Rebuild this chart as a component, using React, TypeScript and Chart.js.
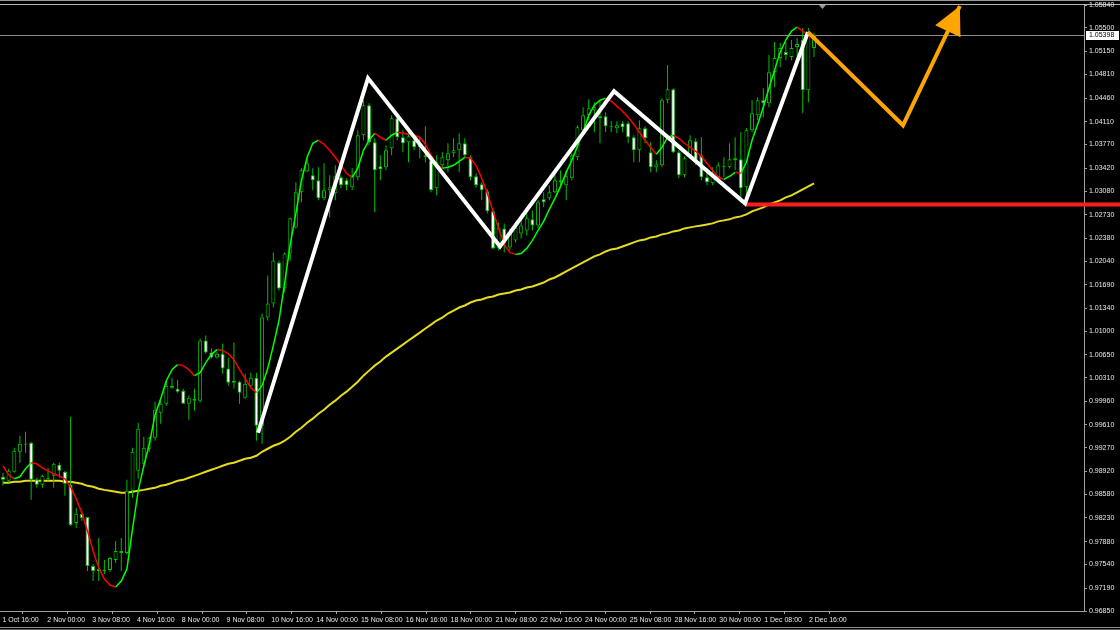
import React, { useEffect, useRef } from 'react';
import { Chart, registerables } from 'chart.js';

Chart.register(...registerables);

// ---------- DATA (H4 candles, price values) ----------
const candleOpen = [
  0.98841, 0.98781, 0.98915, 0.99212, 0.99331, 0.99346, 0.98796, 0.98722, 0.98811, 0.98855,
  0.99019, 0.98915, 0.98722, 0.98157, 0.98291, 0.98246, 0.97518, 0.97444, 0.97444, 0.97459,
  0.97607, 0.97711, 0.97711, 0.98633, 0.98930, 0.99034, 0.99257, 0.99420, 0.99792, 0.99925,
  1.00193, 1.00148, 1.00119, 0.99925, 1.00000, 0.99970, 1.00862, 1.00683, 1.00609, 1.00668,
  1.00446, 1.00237, 1.00252, 1.00015, 1.00193, 1.00312, 0.99598, 1.01203, 1.01411, 1.02021,
  1.01634, 1.02154, 1.02541, 1.03061, 1.03373, 1.03313, 1.03239, 1.02972, 1.03091, 1.03046,
  1.03284, 1.03239, 1.03135, 1.03284, 1.03908, 1.04354, 1.03804, 1.03447, 1.03432, 1.03715,
  1.04161, 1.03878, 1.03804, 1.03834, 1.03730, 1.03581, 1.03536, 1.03120, 1.03462, 1.03536,
  1.03640, 1.03685, 1.03789, 1.03581, 1.03299, 1.03180, 1.03076, 1.02779, 1.02229, 1.02526,
  1.02244, 1.02348, 1.02452, 1.02496, 1.02660, 1.02570, 1.02957, 1.02972, 1.03061, 1.03209,
  1.03165, 1.03269, 1.03581, 1.03982, 1.04205, 1.04279, 1.04190, 1.04190, 1.04042, 1.04012,
  1.04086, 1.04086, 1.03878, 1.03685, 1.04012, 1.03655, 1.03432, 1.03462, 1.04428, 1.04591,
  1.03655, 1.03313, 1.03581, 1.03819, 1.03611, 1.03284, 1.03195, 1.03284, 1.03432, 1.03432,
  1.03536, 1.03551, 1.03135, 1.03982, 1.04205, 1.04428, 1.04383, 1.04844, 1.05052, 1.05141,
  1.05067, 1.05216, 1.05320, 1.04577, 1.05201,
];
const candleHigh = [
  0.98900, 0.98960, 0.99272, 0.99450, 0.99509, 0.99361, 0.98826, 0.98870, 0.98974, 0.99049,
  0.99049, 0.98930, 0.99732, 0.98380, 0.98335, 0.98246, 0.97548, 0.97934, 0.97607, 0.97652,
  0.97890, 0.97934, 0.98796, 0.99272, 0.99643, 0.99435, 0.99435, 0.99955, 0.99970, 1.00267,
  1.00312, 1.00282, 1.00148, 1.00044, 1.00148, 1.00891, 1.00936, 1.00743, 1.00698, 1.00817,
  1.00609, 1.00832, 1.00267, 1.00371, 1.00386, 1.00386, 1.01263, 1.01827, 1.02169, 1.02050,
  1.02169, 1.02689, 1.03209, 1.03418, 1.03566, 1.03418, 1.03432, 1.03492, 1.03313, 1.03462,
  1.03313, 1.03269, 1.03418, 1.03982, 1.04428, 1.04383, 1.03863, 1.03611, 1.03759, 1.04205,
  1.04205, 1.03982, 1.04027, 1.03908, 1.03878, 1.04042, 1.03581, 1.03611, 1.03655, 1.03789,
  1.03863, 1.03938, 1.03863, 1.03611, 1.03343, 1.03209, 1.03105, 1.02823, 1.02615, 1.02600,
  1.02526, 1.02615, 1.02675, 1.02764, 1.02793, 1.02942, 1.03061, 1.03165, 1.03418, 1.03388,
  1.03388, 1.03640, 1.04056, 1.04324, 1.04443, 1.04398, 1.04428, 1.04250, 1.04116, 1.04116,
  1.04116, 1.04116, 1.03908, 1.04131, 1.04042, 1.03804, 1.03536, 1.04458, 1.04948, 1.04606,
  1.03685, 1.03596, 1.03908, 1.03863, 1.03878, 1.03418, 1.03432, 1.03507, 1.03581, 1.03789,
  1.03878, 1.03952, 1.04012, 1.04428, 1.04473, 1.04606, 1.05097, 1.05290, 1.05275, 1.05290,
  1.05320, 1.05349, 1.05498, 1.05498, 1.05428,
];
const candleLow = [
  0.98707, 0.98751, 0.98900, 0.99049, 0.99197, 0.98499, 0.98677, 0.98677, 0.98781, 0.98677,
  0.98826, 0.98558, 0.98112, 0.98083, 0.98187, 0.97444, 0.97295, 0.97295, 0.97399, 0.97429,
  0.97563, 0.97444, 0.97696, 0.98529, 0.98811, 0.98974, 0.99212, 0.99376, 0.99628, 0.99896,
  1.00148, 1.00089, 0.99925, 0.99688, 0.99821, 0.99940, 1.00668, 1.00594, 1.00594, 1.00371,
  1.00193, 1.00148, 0.99925, 1.00000, 1.00163, 0.99376, 0.99331, 1.01159, 1.01352, 1.01605,
  1.01575, 1.02050, 1.02526, 1.02912, 1.03358, 1.03091, 1.02942, 1.02942, 1.02689, 1.02942,
  1.03120, 1.03091, 1.03091, 1.03239, 1.03834, 1.03759, 1.02764, 1.03239, 1.03388, 1.03611,
  1.03834, 1.03655, 1.03507, 1.03685, 1.03566, 1.03507, 1.03061, 1.03016, 1.03432, 1.03358,
  1.03581, 1.03358, 1.03581, 1.03239, 1.03135, 1.02942, 1.02749, 1.02214, 1.02199, 1.02169,
  1.02199, 1.02318, 1.02377, 1.02422, 1.02496, 1.02526, 1.02838, 1.02942, 1.03046, 1.03165,
  1.02942, 1.03239, 1.03536, 1.03952, 1.04131, 1.03952, 1.03789, 1.03952, 1.03952, 1.03938,
  1.03952, 1.03789, 1.03507, 1.03507, 1.03789, 1.03358, 1.03358, 1.03432, 1.04383, 1.03640,
  1.03269, 1.03284, 1.03566, 1.03462, 1.03239, 1.03165, 1.03165, 1.03195, 1.03284, 1.03418,
  1.03388, 1.02912, 1.02912, 1.03952, 1.04131, 1.04175, 1.04324, 1.04621, 1.04918, 1.05022,
  1.05022, 1.05067, 1.04235, 1.04398, 1.05067,
];
const candleClose = [
  0.98796, 0.98930, 0.99227, 0.99331, 0.99316, 0.98796, 0.98722, 0.98855, 0.98826, 0.99034,
  0.98930, 0.98737, 0.98127, 0.98291, 0.98231, 0.97518, 0.97444, 0.97474, 0.97459, 0.97637,
  0.97741, 0.97741, 0.98633, 0.99212, 0.99554, 0.99272, 0.99420, 0.99836, 0.99925, 1.00193,
  1.00163, 1.00104, 0.99925, 1.00015, 0.99970, 1.00862, 1.00683, 1.00609, 1.00668, 1.00446,
  1.00237, 1.00267, 1.00089, 1.00223, 1.00312, 0.99598, 1.01203, 1.01411, 1.02050, 1.01634,
  1.02154, 1.02675, 1.03061, 1.03388, 1.03492, 1.03239, 1.02972, 1.03091, 1.03135, 1.03299,
  1.03165, 1.03165, 1.03313, 1.03908, 1.04354, 1.03804, 1.03388, 1.03403, 1.03685, 1.04161,
  1.03878, 1.03789, 1.03893, 1.03730, 1.03759, 1.03611, 1.03091, 1.03507, 1.03581, 1.03640,
  1.03685, 1.03789, 1.03611, 1.03284, 1.03165, 1.03091, 1.02779, 1.02229, 1.02541, 1.02303,
  1.02466, 1.02541, 1.02570, 1.02675, 1.02570, 1.02912, 1.02912, 1.03061, 1.03239, 1.03239,
  1.03299, 1.03611, 1.04027, 1.04205, 1.04309, 1.04324, 1.04161, 1.04042, 1.04027, 1.04056,
  1.04027, 1.03878, 1.03685, 1.04012, 1.03863, 1.03432, 1.03477, 1.04428, 1.04591, 1.03655,
  1.03313, 1.03566, 1.03834, 1.03536, 1.03284, 1.03209, 1.03343, 1.03462, 1.03447, 1.03551,
  1.03566, 1.03120, 1.03982, 1.04235, 1.04428, 1.04383, 1.04844, 1.05052, 1.05201, 1.05097,
  1.05201, 1.05260, 1.04577, 1.05438, 1.05398,
];

// fast moving average, coloured green when rising and red when falling
const trendMA = [
  0.99004, 0.98870, 0.98811, 0.98841, 0.98960, 0.99049, 0.99034, 0.98974, 0.98930, 0.98885,
  0.98855, 0.98811, 0.98692, 0.98514, 0.98306, 0.98038, 0.97741, 0.97488, 0.97325, 0.97236,
  0.97206, 0.97295, 0.97474, 0.98068, 0.98633, 0.99004, 0.99331, 0.99762, 1.00000, 1.00267,
  1.00431, 1.00505, 1.00490, 1.00431, 1.00341, 1.00386, 1.00535, 1.00654, 1.00728, 1.00713,
  1.00668, 1.00579, 1.00431, 1.00297, 1.00163, 1.00089, 1.00193, 1.00446, 1.00787, 1.01159,
  1.01709, 1.02288, 1.02749, 1.03239, 1.03581, 1.03789, 1.03834, 1.03774, 1.03685, 1.03581,
  1.03462, 1.03343, 1.03284, 1.03418, 1.03685, 1.03834, 1.03938, 1.03878, 1.03834, 1.03908,
  1.03952, 1.03938, 1.03923, 1.03908, 1.03878, 1.03774, 1.03611, 1.03477, 1.03418, 1.03432,
  1.03462, 1.03521, 1.03581, 1.03566, 1.03462, 1.03269, 1.03046, 1.02779, 1.02526, 1.02288,
  1.02169, 1.02140, 1.02154, 1.02229, 1.02348, 1.02496, 1.02630, 1.02808, 1.02972, 1.03150,
  1.03358, 1.03536, 1.03744, 1.03952, 1.04205, 1.04354, 1.04428, 1.04458, 1.04413, 1.04339,
  1.04265, 1.04175, 1.04071, 1.03952, 1.03834, 1.03730, 1.03626, 1.03730, 1.03878, 1.03908,
  1.03863, 1.03789, 1.03730, 1.03670, 1.03596, 1.03492, 1.03388, 1.03284, 1.03254, 1.03299,
  1.03358, 1.03343, 1.03507, 1.03834, 1.04071, 1.04324, 1.04606, 1.04874, 1.05141, 1.05320,
  1.05453, 1.05513, 1.05453, 1.05394, 1.05320,
];

// slow moving average (yellow)
const slowMA = [
  0.98751, 0.98751, 0.98766, 0.98766, 0.98781, 0.98781, 0.98781, 0.98781, 0.98781, 0.98781,
  0.98781, 0.98766, 0.98766, 0.98751, 0.98737, 0.98707, 0.98692, 0.98663, 0.98647, 0.98633,
  0.98618, 0.98603, 0.98603, 0.98618, 0.98633, 0.98647, 0.98663, 0.98677, 0.98707, 0.98722,
  0.98751, 0.98781, 0.98796, 0.98826, 0.98855, 0.98885, 0.98915, 0.98945, 0.98974, 0.99004,
  0.99034, 0.99049, 0.99078, 0.99108, 0.99123, 0.99153, 0.99212, 0.99257, 0.99301, 0.99331,
  0.99376, 0.99435, 0.99509, 0.99569, 0.99643, 0.99703, 0.99777, 0.99836, 0.99910, 0.99970,
  1.00044, 1.00104, 1.00178, 1.00252, 1.00341, 1.00416, 1.00490, 1.00550, 1.00624, 1.00683,
  1.00743, 1.00802, 1.00862, 1.00921, 1.00980, 1.01040, 1.01099, 1.01159, 1.01203, 1.01263,
  1.01307, 1.01352, 1.01382, 1.01426, 1.01456, 1.01471, 1.01501, 1.01515, 1.01545, 1.01560,
  1.01575, 1.01605, 1.01619, 1.01649, 1.01664, 1.01694, 1.01723, 1.01768, 1.01798, 1.01842,
  1.01887, 1.01932, 1.01976, 1.02021, 1.02065, 1.02110, 1.02140, 1.02184, 1.02214, 1.02229,
  1.02258, 1.02288, 1.02318, 1.02348, 1.02362, 1.02392, 1.02407, 1.02437, 1.02452, 1.02481,
  1.02496, 1.02526, 1.02541, 1.02556, 1.02570, 1.02585, 1.02600, 1.02630, 1.02645, 1.02660,
  1.02689, 1.02704, 1.02734, 1.02779, 1.02808, 1.02838, 1.02882, 1.02912, 1.02942, 1.02987,
  1.03016, 1.03061, 1.03105, 1.03150, 1.03195,
];

// hand-drawn zigzag (white) and forecast path (orange), as bar index + price
const zigzagBar = [45.28, 64.81, 88.25, 108.49, 131.75, 142.93];
const zigzagPrice = [0.99494, 1.04755, 1.02258, 1.04562, 1.02897, 1.05438];
const forecastBar = [142.93, 159.8, 169.9];
const forecastPrice = [1.05438, 1.04056, 1.05825];

// red support level
const supportStartBar = 131.75;
const supportLevel = 1.02882;

const currentPrice = 1.05398;
const currentPriceLabel = '1.05398';

// axis labels
const priceTickLabels = [
  '0.96850', '0.97190', '0.97540', '0.97880', '0.98230', '0.98580', '0.98920', '0.99270',
  '0.99610', '0.99960', '1.00310', '1.00650', '1.01000', '1.01340', '1.01690', '1.02040',
  '1.02380', '1.02730', '1.03080', '1.03420', '1.03770', '1.04110', '1.04460', '1.04810',
  '1.05150', '1.05500', '1.05840',
];
const timeLabels = [
  '1 Oct 16:00', '2 Nov 00:00', '3 Nov 08:00', '4 Nov 16:00', '8 Nov 00:00', '9 Nov 08:00',
  '10 Nov 16:00', '14 Nov 00:00', '15 Nov 08:00', '16 Nov 16:00', '18 Nov 00:00',
  '21 Nov 08:00', '22 Nov 16:00', '24 Nov 00:00', '25 Nov 08:00', '28 Nov 16:00',
  '30 Nov 00:00', '1 Dec 08:00', '2 Dec 16:00',
];
const timeLabelBars = [
  -0.44, 7.52, 15.47, 23.42, 31.38, 39.34, 47.29, 55.25, 63.2, 71.16, 79.11, 87.07, 95.02,
  102.98, 110.93, 118.89, 126.84, 134.8, 142.75,
];

// ---------- STYLE ----------
const CANDLE_GREEN = '#00c000';
const TREND_UP = '#00ff00';
const TREND_DOWN = '#ff0000';
const SLOW_COLOR = '#e6dc1e';
const AXIS_COLOR = '#a0a0a0';
const LABEL_COLOR = '#e8e8e8';
const FONT_FAMILY = "'Liberation Sans', Arial, sans-serif";
const FONT_SIZE = 7;
const ORANGE = '#ffa500';

const overlayPlugin = {
  id: 'mtOverlay',
  beforeDraw(chart: any) {
    const { ctx, width, height, chartArea } = chart;
    ctx.save();
    ctx.fillStyle = '#000000';
    ctx.fillRect(0, 0, width, height);
    // window frame lines
    ctx.lineWidth = 1;
    ctx.strokeStyle = '#9a9a9a';
    ctx.beginPath();
    ctx.moveTo(0, 0.5);
    ctx.lineTo(width, 0.5);
    ctx.stroke();
    ctx.strokeStyle = '#b4b4b4';
    ctx.beginPath();
    ctx.moveTo(0, chartArea.top - 0.5);
    ctx.lineTo(width, chartArea.top - 0.5);
    ctx.stroke();
    ctx.strokeStyle = '#8c8c8c';
    ctx.beginPath();
    ctx.moveTo(0, 627.5);
    ctx.lineTo(width, 627.5);
    ctx.stroke();
    ctx.strokeStyle = '#5a5a5a';
    ctx.beginPath();
    ctx.moveTo(0, 629.5);
    ctx.lineTo(width, 629.5);
    ctx.stroke();
    ctx.restore();
  },
  beforeDatasetsDraw(chart: any) {
    const { ctx, chartArea } = chart;
    const y = chart.scales.y;
    const py = Math.round(y.getPixelForValue(currentPrice)) + 0.5;
    ctx.save();
    ctx.strokeStyle = '#8a8a8a';
    ctx.lineWidth = 1;
    ctx.beginPath();
    ctx.moveTo(chartArea.left, py);
    ctx.lineTo(chartArea.right, py);
    ctx.stroke();
    ctx.restore();
  },
  afterDatasetDraw(chart: any, args: any) {
    const ds = chart.data.datasets[args.index];
    if (!ds || ds.label !== 'trend') return;
    const { ctx } = chart;
    const x0 = chart.scales.x.getPixelForValue(supportStartBar);
    const y0 = chart.scales.y.getPixelForValue(supportLevel);
    ctx.save();
    ctx.strokeStyle = '#ff1e1e';
    ctx.lineWidth = 4;
    ctx.beginPath();
    ctx.moveTo(x0, y0);
    ctx.lineTo(chart.width, y0);
    ctx.stroke();
    ctx.restore();
  },
  afterDatasetsDraw(chart: any) {
    const { ctx } = chart;
    const xs = chart.scales.x;
    const ys = chart.scales.y;
    const n = forecastBar.length;
    const tx = xs.getPixelForValue(forecastBar[n - 1]);
    const ty = ys.getPixelForValue(forecastPrice[n - 1]);
    const bx = xs.getPixelForValue(forecastBar[n - 2]);
    const by = ys.getPixelForValue(forecastPrice[n - 2]);
    const dx = tx - bx;
    const dy = ty - by;
    const len = Math.hypot(dx, dy) || 1;
    const ux = dx / len;
    const uy = dy / len;
    const L = 28;
    const W = 14;
    const mx = tx - ux * L;
    const my = ty - uy * L;
    ctx.save();
    ctx.fillStyle = ORANGE;
    ctx.beginPath();
    ctx.moveTo(tx, ty);
    ctx.lineTo(mx - uy * W, my + ux * W);
    ctx.lineTo(mx + uy * W, my - ux * W);
    ctx.closePath();
    ctx.fill();
    ctx.restore();
  },
  afterDraw(chart: any) {
    const { ctx, chartArea, width } = chart;
    const ys = chart.scales.y;
    const xs = chart.scales.x;
    ctx.save();
    // chart shift marker
    const lastBar = candleClose.length - 1;
    const sx = xs.getPixelForValue(lastBar + 1.5);
    ctx.fillStyle = '#9a9a9a';
    ctx.beginPath();
    ctx.moveTo(sx - 3.5, chartArea.top);
    ctx.lineTo(sx + 3.5, chartArea.top);
    ctx.lineTo(sx, chartArea.top + 4);
    ctx.closePath();
    ctx.fill();
    // current price label
    const py = Math.round(ys.getPixelForValue(currentPrice));
    const bxl = chartArea.right + 2;
    ctx.fillStyle = '#ffffff';
    ctx.fillRect(bxl, py - 4, width - bxl - 1, 9);
    ctx.fillStyle = '#000000';
    ctx.font = `${FONT_SIZE}px ${FONT_FAMILY}`;
    ctx.textBaseline = 'middle';
    ctx.textAlign = 'left';
    ctx.fillText(currentPriceLabel, bxl + 3, py + 0.5);
    ctx.restore();
  },
};

export default function App() {
  const canvasRef = useRef<HTMLCanvasElement | null>(null);

  useEffect(() => {
    document.body.style.margin = '0';
    document.body.style.background = '#000';
    const canvas = canvasRef.current;
    if (!canvas) return;

    const bars = candleClose.map((_, i) => i);
    const wickData = bars.map((i) => ({ x: i, y: [candleLow[i], candleHigh[i]] }));
    const bodyData = bars.map((i) => ({ x: i, y: [candleOpen[i], candleClose[i]] }));
    const bodyFill = bars.map((i) => (candleClose[i] >= candleOpen[i] ? '#000000' : '#ffffff'));
    const trendData = trendMA.map((v, i) => ({ x: i, y: v }));
    const slowData = slowMA.map((v, i) => ({ x: i, y: v }));
    const zigzagData = zigzagBar.map((b, i) => ({ x: b, y: zigzagPrice[i] }));
    const forecastData = forecastBar.map((b, i) => ({ x: b, y: forecastPrice[i] }));
    const priceTickValues = priceTickLabels.map((s) => parseFloat(s));

    const tickFont = { family: FONT_FAMILY, size: FONT_SIZE };

    const chart = new Chart(canvas, {
      type: 'bar',
      data: {
        datasets: [
          {
            type: 'line',
            label: 'slow',
            data: slowData,
            borderColor: SLOW_COLOR,
            borderWidth: 2,
            pointRadius: 0,
            tension: 0,
            order: 6,
          } as any,
          {
            type: 'bar',
            label: 'wick',
            data: wickData,
            backgroundColor: CANDLE_GREEN,
            borderWidth: 0,
            barThickness: 1,
            grouped: false,
            inflateAmount: 0,
            order: 5,
          } as any,
          {
            type: 'bar',
            label: 'body',
            data: bodyData,
            backgroundColor: bodyFill,
            borderColor: CANDLE_GREEN,
            borderWidth: 1,
            borderSkipped: false,
            barThickness: 4,
            minBarLength: 1,
            grouped: false,
            inflateAmount: 0,
            order: 4,
          } as any,
          {
            type: 'line',
            label: 'trend',
            data: trendData,
            borderColor: TREND_UP,
            borderWidth: 1.5,
            pointRadius: 0,
            tension: 0,
            segment: {
              borderColor: (c: any) => (c.p1.parsed.y >= c.p0.parsed.y ? TREND_UP : TREND_DOWN),
            },
            order: 3,
          } as any,
          {
            type: 'line',
            label: 'zigzag',
            data: zigzagData,
            borderColor: '#ffffff',
            borderWidth: 4,
            pointRadius: 0,
            tension: 0,
            borderJoinStyle: 'miter',
            borderCapStyle: 'butt',
            order: 2,
          } as any,
          {
            type: 'line',
            label: 'forecast',
            data: forecastData,
            borderColor: ORANGE,
            borderWidth: 4,
            pointRadius: 0,
            tension: 0,
            borderJoinStyle: 'miter',
            borderCapStyle: 'butt',
            order: 1,
          } as any,
        ],
      },
      options: {
        responsive: false,
        devicePixelRatio: 1,
        animation: false,
        events: [],
        layout: { padding: { top: 5, left: 0, right: 0, bottom: 0 } },
        plugins: {
          legend: { display: false },
          tooltip: { enabled: false },
        },
        scales: {
          x: {
            type: 'linear',
            min: -0.533,
            max: 191.94,
            offset: false,
            grid: {
              display: true,
              drawOnChartArea: false,
              drawTicks: true,
              tickLength: 3,
              color: AXIS_COLOR,
            },
            border: { display: true, color: AXIS_COLOR },
            ticks: {
              autoSkip: false,
              maxRotation: 0,
              minRotation: 0,
              align: 'start',
              labelOffset: 2,
              padding: 2,
              color: LABEL_COLOR,
              font: tickFont,
              callback: (_v: any, i: number) => timeLabels[i],
            },
            afterBuildTicks: (scale: any) => {
              scale.ticks = timeLabelBars.map((v) => ({ value: v }));
            },
            afterFit: (scale: any) => {
              scale.height = 19;
              scale.paddingLeft = 0;
              scale.paddingRight = 0;
            },
          } as any,
          y: {
            type: 'linear',
            position: 'right',
            min: 0.9685,
            max: 1.0584,
            grid: {
              display: true,
              drawOnChartArea: false,
              drawTicks: true,
              tickLength: 3,
              color: AXIS_COLOR,
            },
            border: { display: true, color: AXIS_COLOR },
            ticks: {
              autoSkip: false,
              padding: 2,
              color: LABEL_COLOR,
              font: tickFont,
              callback: (_v: any, i: number) => priceTickLabels[i],
            },
            afterBuildTicks: (scale: any) => {
              scale.ticks = priceTickValues.map((v) => ({ value: v }));
            },
            afterFit: (scale: any) => {
              scale.width = 36;
              scale.paddingTop = 0;
              scale.paddingBottom = 0;
            },
          } as any,
        },
      } as any,
      plugins: [overlayPlugin],
    });

    return () => {
      chart.destroy();
    };
  }, []);

  return (
    <div style={{ width: 1120, height: 630, background: '#000' }}>
      <canvas ref={canvasRef} width={1120} height={630} style={{ display: 'block', width: 1120, height: 630 }} />
    </div>
  );
}
